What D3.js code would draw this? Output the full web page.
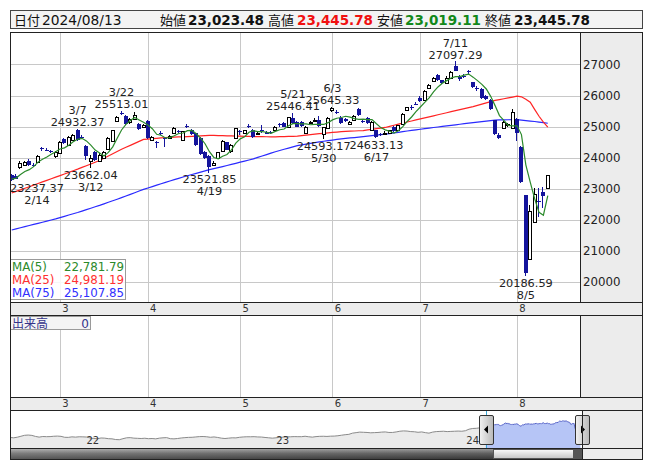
<!DOCTYPE html>
<html><head><meta charset="utf-8">
<script src="https://cdn.jsdelivr.net/npm/d3@7"></script>
<style>body{margin:0;background:#fff}svg{display:block}</style>
</head><body>
<svg id="c" width="653" height="470"></svg>
<script>
// ---------------- DATA ----------------
const dates = ["2/14","2/15","2/16","2/19","2/20","2/21","2/22","2/26","2/27","2/28","2/29",
"3/1","3/4","3/5","3/6","3/7","3/8","3/11","3/12","3/13","3/14","3/15","3/18","3/19","3/21","3/22","3/25","3/26","3/27","3/28","3/29",
"4/1","4/2","4/3","4/4","4/5","4/8","4/9","4/10","4/11","4/12","4/15","4/16","4/17","4/18","4/19","4/22","4/23","4/24","4/25","4/26","4/30",
"5/1","5/2","5/7","5/8","5/9","5/10","5/13","5/14","5/15","5/16","5/17","5/20","5/21","5/22","5/23","5/24","5/27","5/28","5/29","5/30","5/31",
"6/3","6/4","6/5","6/6","6/7","6/10","6/11","6/12","6/13","6/14","6/17","6/18","6/19","6/20","6/21","6/24","6/25","6/26","6/27","6/28",
"7/1","7/2","7/3","7/4","7/5","7/8","7/9","7/10","7/11","7/12","7/16","7/17","7/18","7/19","7/22","7/23","7/24","7/25","7/26","7/29","7/30","7/31",
"8/1","8/2","8/5","8/6","8/7","8/8","8/9","8/13"];

const opens = [23440,23420,23700,23760,23890,23780,23850,24300,24260,24220,24040,
24150,24600,24410,24570,24890,24680,24380,23880,24180,23900,23990,24280,24540,25180,25440,25340,25150,25250,25090,24990,
25180,24570,24490,24800,24630,24630,24800,24860,24570,25010,24900,24780,24650,24170,24060,23750,24000,24220,24500,24200,24640,
24870,24800,25010,24900,24800,24900,24840,24820,24900,25070,25130,25000,25280,25140,25160,24800,25120,25200,25220,24750,24960,
25530,25480,25290,25240,25090,25200,25570,25180,25270,24900,24880,24760,24800,24780,24990,24880,25100,25530,25620,25720,
25930,25860,26240,26460,26650,26490,26400,26580,26950,26610,26630,26780,26420,26250,26210,26000,25850,25200,24720,24940,25060,24950,
25250,24340,22800,20740,21940,22600,22907,23023.48];

const highs = [23480,23460,23880,23900,23960,23840,24090,24340,24300,24260,24200,
24530,24650,24690,24770,24932.37,24730,24410,24100,24220,24150,24220,24660,24900,25330,25513.01,25380,25280,25470,25130,25080,
25200,24700,24540,24850,24650,24720,24980,24900,24870,25080,24930,24800,24670,24200,24080,23880,24190,24560,24520,24450,24960,
24900,24900,25080,24930,24840,25060,24870,24870,25010,25130,25160,25320,25446.41,25180,25190,25020,25180,25280,25350,24990,25300,
25645.33,25530,25330,25270,25180,25370,25610,25230,25300,25170,24900,24800,24860,24900,25020,25060,25440,25640,25680,25780,
25980,26170,26370,26600,26690,26510,26620,26780,27097.29,26650,26700,26820,26440,26300,26240,26030,25880,25220,24800,25180,25130,25580,
25290,24380,22810,22480,23016,23026,23067,23445.78];

const lows = [23237.37,23300,23650,23720,23730,23700,23830,24230,24200,24160,23990,
24130,24450,24390,24540,24540,24600,23940,23662.04,23880,23850,23960,24270,24500,25150,25380,25050,25100,25220,24900,24960,
24600,24530,24320,24730,24350,24600,24780,24800,24550,24960,24740,24380,24090,23960,23521.85,23720,23980,24200,24240,24160,24620,
24720,24760,24960,24640,24760,24800,24750,24760,24880,25000,24980,24980,25100,24980,24990,24760,25090,25140,24990,24593.17,24940,
25480,25410,25100,25160,25060,25170,25340,25130,25090,24870,24633.13,24700,24760,24760,24840,24860,25080,25510,25530,25680,
25790,25840,26220,26440,26480,26380,26380,26560,26780,26480,26560,26700,26230,26150,25900,25850,25540,24730,24600,24920,24980,24930,
24550,23200,20186.59,20700,21900,22100,22380,23019.11];

const closes = [23290,23330,23830,23870,23760,23770,24060,24280,24240,24200,24170,
24510,24470,24670,24740,24570,24670,24050,24000,23930,24090,24190,24640,24890,25310,25430,25090,25250,25380,24930,25050,
24640,24670,24480,24780,24610,24700,24960,24840,24860,24990,24760,24400,24120,23980,23700,23840,24180,24540,24260,24420,24950,
24860,24880,24990,24660,24800,24880,24770,24800,24990,25060,25000,25300,25130,25000,25010,25000,25160,25200,25010,24980,25290,
25600,25470,25130,25180,25150,25350,25360,25160,25110,25150,24680,24740,24800,24880,24860,25050,25420,25620,25600,25710,
25810,26150,26340,26580,26500,26400,26580,26760,26800,26520,26620,26760,26260,26240,25920,25880,25570,24770,24640,25150,25070,25480,
24800,23220,20290,22283,22843,22570,22767.17,23445.78];

// closes of the four sessions before the first visible one (for MA5)
const priorCloses = [23150,23250,23400,23450];

const ma25 = [22865,22916,22966,23017,23067,23118,23169,23220,23271,23322,23373,
23425,23476,23528,23579,23631,23687,23743,23798,23854,23910,23983,24056,24128,24201,24273,24336,24398,24461,24524,24588,
24600,24613,24625,24638,24650,24654,24660,24667,24673,24680,24688,24696,24704,24712,24720,24716,24712,24708,24704,24700,24696,
24692,24688,24684,24680,24678,24676,24674,24672,24670,24675,24680,24684,24689,24693,24709,24725,24740,24756,24772,24785,24798,
24812,24825,24838,24845,24852,24860,24867,24874,24894,24914,24933,24953,24973,25008,25043,25078,25113,25148,25181,25215,
25248,25282,25315,25348,25381,25414,25447,25480,25513,25546,25579,25612,25645,25685,25724,25764,25803,25843,25870,25897,25925,
25952,25980,25960,25879,25784,25555,25333,25144,24981.19];

const ma75 = [21674,21710,21746,21781,21817,21852,21888,21924,21960,21996,22032,
22073,22114,22155,22196,22236,22282,22328,22374,22420,22466,22516,22565,22615,22664,22714,22767,22820,22874,22927,22980,
23026,23071,23117,23162,23208,23250,23293,23335,23378,23420,23459,23498,23536,23575,23614,23648,23682,23715,23749,23783,23819,
23855,23891,23927,23963,24009,24055,24101,24147,24193,24232,24271,24309,24348,24387,24412,24436,24461,24485,24510,24529,24549,
24568,24588,24607,24621,24635,24649,24663,24677,24693,24709,24725,24741,24757,24777,24798,24818,24839,24859,24878,24897,
24915,24934,24953,24971,24988,25006,25023,25041,25059,25077,25094,25112,25130,25146,25163,25179,25196,25212,25216,25219,25222,
25224,25225,25210,25195,25180,25165,25147,25128,25107.85];

const yTicks = [20000,21000,22000,23000,24000,25000,26000,27000];
const monthStarts = ["3/1","4/1","5/1","6/3","7/1","8/1"];
const monthLabels = ["3","4","5","6","7","8"];

const markDates = ["2/14","3/7","3/12","3/22","4/19","5/21","5/30","6/3","6/17","7/11","8/5"];
const markKinds = ["low","high","low","high","low","high","low","high","low","high","low"];

// navigator: weekly values from 2021-08-13 to 2024-02-09
const navHistStart = "2021-08-13";
const navHist = [17100,16900,17250,17800,18350,18500,18300,17700,17300,17650,17550,17600,17800,17900,17750,17200,17150,17450,17300,17500,17450,
17350,16800,16500,16400,16800,16700,16400,16300,15900,15800,16400,16900,17000,16700,16600,16500,16650,16400,16500,16300,16700,
16900,17000,16400,16300,16500,16800,17000,17150,17200,17400,17600,17650,17500,17200,17400,17100,16700,16500,16700,16900,16850,17200,
17400,17500,17500,17550,17400,17350,17100,16900,16700,
16900,17150,17300,17450,17500,17600,17550,17550,17800,17500,17300,17600,17750,17800,17700,17850,17900,18100,18400,18700,18900,
19600,19900,20200,20100,20000,19800,19900,20000,20200,20300,20000,20000,20300,20700,20900,20800,20500,20400,20100,20300,19900,19600,
20200,20500,20600,20700,20500,20600,20700,20800,20700,
21000,21900,22300,22400,22700,23100];
const yearLabels = ["22","23","24"];
const yearStarts = ["2022-01-01","2023-01-01","2024-01-01"];

const headerDate = "2024/08/13";

// ---------------- DRAW ----------------
const FONT = "'DejaVu Sans','Noto Sans CJK JP',sans-serif";
const JP = "'Noto Sans CJK JP','DejaVu Sans',sans-serif";
const svg = d3.select("#c").attr("font-family", FONT);
const L = 10, R = 580, RR = 643, TOP = 33, MB = 302, VT = 315, VB = 397, NT = 410, NB = 448, SB = 459;
const UP = "#000", DOWN = "#14149c";

const x = d3.scaleLinear().domain([0, dates.length - 1]).range([11.7, 547.8]);
const y = d3.scaleLinear().domain([20000, 28000]).range([282, 33.4]);
const idx = d => dates.indexOf(d);
const fmt2 = d3.format(",.2f"), fmtp = d3.format(".2f");

// header
const hdr = svg.append("g");
hdr.append("rect").attr("x", 10.5).attr("y", 10.5).attr("width", 632).attr("height", 18)
  .attr("fill", "#f3f3f3").attr("stroke", "#444");
const last = dates.length - 1;
const hItems = [
  {t:"日付", x:14, f:JP, w:"normal", c:"#111"},
  {t:headerDate, x:42, f:FONT, w:"normal", c:"#111"},
  {t:"始値", x:160, f:JP, w:"normal", c:"#111"},
  {t:fmt2(opens[last]), x:188, f:FONT, w:"bold", c:"#111"},
  {t:"高値", x:268, f:JP, w:"normal", c:"#111"},
  {t:fmt2(highs[last]), x:297, f:FONT, w:"bold", c:"#f01010"},
  {t:"安値", x:377, f:JP, w:"normal", c:"#111"},
  {t:fmt2(lows[last]), x:405, f:FONT, w:"bold", c:"#12881a"},
  {t:"終値", x:485, f:JP, w:"normal", c:"#111"},
  {t:fmt2(closes[last]), x:514, f:FONT, w:"bold", c:"#111"}
];
hdr.selectAll("text").data(hItems).join("text")
  .attr("x", d => d.x).attr("y", 24.5).attr("font-family", d => d.f)
  .attr("font-weight", d => d.w).attr("fill", d => d.c)
  .attr("font-size", d => d.f === JP ? 13 : (d.w === "bold" ? 13.5 : 13.8)).text(d => d.t);

// panels backgrounds
svg.append("rect").attr("x", L).attr("y", TOP).attr("width", R - L).attr("height", MB - TOP).attr("fill", "#fff");
svg.append("rect").attr("x", R).attr("y", TOP).attr("width", RR - R).attr("height", NT - TOP).attr("fill", "#ececec");
svg.append("rect").attr("x", L).attr("y", MB).attr("width", RR - L).attr("height", VT - MB).attr("fill", "#ececec");
svg.append("rect").attr("x", L).attr("y", VT).attr("width", R - L).attr("height", VB - VT).attr("fill", "#fff");
svg.append("rect").attr("x", L).attr("y", VB).attr("width", RR - L).attr("height", NT - VB).attr("fill", "#ececec");

// grid
const grid = svg.append("g").attr("stroke", "#c8c8c8").attr("stroke-width", 1).attr("shape-rendering", "crispEdges");
grid.selectAll("line.h").data(yTicks).join("line").attr("class", "h")
  .attr("x1", L).attr("x2", R).attr("y1", d => Math.round(y(d)) + 0.5).attr("y2", d => Math.round(y(d)) + 0.5);
const mx = d => Math.round(x(idx(d))) + 0.5;
grid.selectAll("line.v").data(monthStarts).join("line").attr("class", "v")
  .attr("x1", mx).attr("x2", mx).attr("y1", TOP).attr("y2", MB);
grid.selectAll("line.vv").data(monthStarts).join("line").attr("class", "vv")
  .attr("x1", mx).attr("x2", mx).attr("y1", VT).attr("y2", VB);

// y axis labels
svg.append("g").selectAll("text").data(yTicks).join("text")
  .attr("x", 583).attr("y", d => y(d)).attr("dy", "0.36em").attr("font-size", 11.8).attr("fill", "#222")
  .text(d => d);

const plot = svg.append("g");
plot.append("clipPath").attr("id", "clipMain").append("rect")
  .attr("x", L).attr("y", TOP).attr("width", R - L).attr("height", MB - TOP);
const pg = plot.append("g").attr("clip-path", "url(#clipMain)");

// MA lines
const allC = priorCloses.concat(closes);
const ma5 = closes.map((c, i) => d3.mean(allC.slice(i, i + 5)));
const line = d3.line().x((d, i) => x(i)).y(d => y(d));
pg.append("path").attr("d", line(ma75)).attr("fill", "none").attr("stroke", "#2a2aff").attr("stroke-width", 1.2);
pg.append("path").attr("d", line(ma25)).attr("fill", "none").attr("stroke", "#ff2424").attr("stroke-width", 1.2);

// candles
const candles = pg.append("g").attr("shape-rendering", "crispEdges");
dates.forEach((d, i) => {
  const xr = Math.round(x(i));
  const up = closes[i] >= opens[i];
  const col = up ? UP : DOWN;
  candles.append("line").attr("x1", xr - 0.5).attr("x2", xr - 0.5)
    .attr("y1", y(highs[i])).attr("y2", y(lows[i])).attr("stroke", col);
  const yt = Math.round(y(Math.max(opens[i], closes[i])));
  const yb = Math.round(y(Math.min(opens[i], closes[i])));
  if (up) {
    candles.append("rect").attr("x", xr - 1.5).attr("y", yt + 0.5).attr("width", 3)
      .attr("height", Math.max(1, yb - yt)).attr("fill", "#fff").attr("stroke", "#000");
  } else {
    candles.append("rect").attr("x", xr - 2).attr("y", yt).attr("width", 4)
      .attr("height", Math.max(1, yb - yt)).attr("fill", DOWN);
  }
});
pg.append("path").attr("d", line(ma5)).attr("fill", "none").attr("stroke", "#2b8a2b").attr("stroke-width", 1.2);

// high / low annotations
const ann = svg.append("g").attr("font-size", 11.3).attr("fill", "#222");
markDates.forEach((d, k) => {
  const i = idx(d);
  const hi = markKinds[k] === "high";
  const v = hi ? highs[i] : lows[i];
  const yy = y(v);
  const g = ann.append("g");
  const tv = g.append("text").attr("text-anchor", "middle").attr("y", hi ? yy - 2.5 : yy + 10.5).text(fmtp(v));
  const td = g.append("text").attr("text-anchor", "middle").attr("y", hi ? yy - 14.5 : yy + 22.5).text(d);
  const w = tv.node().getComputedTextLength();
  const cx = Math.max(x(i), L + w / 2);
  tv.attr("x", cx); td.attr("x", cx);
});

// MA legend
const lg = svg.append("g").attr("font-size", 11.8);
lg.append("rect").attr("x", 10.5).attr("y", 259.5).attr("width", 115).attr("height", 40)
  .attr("fill", "#fff").attr("fill-opacity", 0.85).attr("stroke", "#9a9a9a");
const legRows = [
  {n:"MA(5)", v:ma5[last], c:"#2b8a2b"},
  {n:"MA(25)", v:ma25[last], c:"#ff3030"},
  {n:"MA(75)", v:ma75[last], c:"#3030ff"}
];
legRows.forEach((r, k) => {
  lg.append("text").attr("x", 12).attr("y", 270.5 + k * 13.3).attr("fill", r.c).text(r.n);
  lg.append("text").attr("x", 124).attr("y", 270.5 + k * 13.3).attr("fill", r.c)
    .attr("text-anchor", "end").text(fmt2(r.v));
});

// month labels in both bands
[311.5, 406.5].forEach(by => {
  svg.append("g").selectAll("text").data(monthStarts).join("text")
    .attr("x", (d) => x(idx(d)) + 2.2).attr("y", by).attr("font-size", 10).attr("fill", "#333")
    .text((d, k) => monthLabels[k]);
});

// volume label box
const vb = svg.append("g");
vb.append("rect").attr("x", 10.5).attr("y", 316.5).attr("width", 80).attr("height", 13)
  .attr("fill", "#f4f4f4").attr("stroke", "#9a9a9a");
vb.append("text").attr("x", 12).attr("y", 327.5).attr("font-family", JP).attr("font-size", 12)
  .attr("fill", "#33338a").text("出来高");
vb.append("text").attr("x", 89).attr("y", 327.5).attr("font-size", 12).attr("text-anchor", "end")
  .attr("fill", "#33338a").text("0");

// ---------------- NAVIGATOR ----------------
const parse = d3.timeParse("%Y-%m-%d");
const h0 = parse(navHistStart);
const navPts = navHist.map((v, k) => ({t: d3.timeDay.offset(h0, k * 7), v}));
dates.forEach((d, i) => {
  const [m, dd] = d.split("/").map(Number);
  navPts.push({t: new Date(2024, m - 1, dd), v: closes[i]});
});
const nx = d3.scaleTime().domain([new Date(2021, 7, 13), new Date(2024, 7, 16)]).range([L, 582]);
const ny = d3.scaleLinear().domain([11000, 33000]).range([NB, NT]);
svg.append("rect").attr("x", L).attr("y", NT).attr("width", 572).attr("height", NB - NT).attr("fill", "#fff");
svg.append("rect").attr("x", 582).attr("y", NT).attr("width", RR - 582).attr("height", SB - NT).attr("fill", "#ececec");
const area = d3.area().x(d => nx(d.t)).y0(NB).y1(d => ny(d.v));
const nline = d3.line().x(d => nx(d.t)).y(d => ny(d.v));
svg.append("path").attr("d", area(navPts)).attr("fill", "#ebebeb");
svg.append("path").attr("d", nline(navPts)).attr("fill", "none").attr("stroke", "#8a8a8a").attr("stroke-width", 1);
const selX0 = nx(new Date(2024, 1, 14)) - 0.5, selX1 = 582;
svg.append("clipPath").attr("id", "clipSel").append("rect")
  .attr("x", selX0).attr("y", NT).attr("width", selX1 - selX0).attr("height", NB - NT);
const sel = svg.append("g").attr("clip-path", "url(#clipSel)");
sel.append("rect").attr("x", selX0).attr("y", NT).attr("width", selX1 - selX0).attr("height", NB - NT).attr("fill", "#fff");
sel.append("path").attr("d", area(navPts)).attr("fill", "#b6c5f6");
sel.append("path").attr("d", nline(navPts)).attr("fill", "none").attr("stroke", "#5865c8").attr("stroke-width", 1);
svg.append("g").attr("stroke", "#3aa8d8").attr("shape-rendering", "crispEdges").selectAll("line")
  .data([selX0, selX1]).join("line").attr("x1", d => Math.round(d) + 0.5).attr("x2", d => Math.round(d) + 0.5)
  .attr("y1", NT).attr("y2", NB);
svg.append("g").selectAll("text").data(yearStarts).join("text")
  .attr("x", d => nx(parse(d)) + 3).attr("y", 443.5).attr("font-size", 10).attr("fill", "#333")
  .text((d, k) => yearLabels[k]);

// scrollbar
const defs = svg.append("defs");
const g1 = defs.append("linearGradient").attr("id", "sbg").attr("x1", 0).attr("x2", 0).attr("y1", 0).attr("y2", 1);
g1.append("stop").attr("offset", "0").attr("stop-color", "#b0b0b0");
g1.append("stop").attr("offset", "0.5").attr("stop-color", "#666");
g1.append("stop").attr("offset", "1").attr("stop-color", "#3a3a3a");
const g2 = defs.append("linearGradient").attr("id", "thg").attr("x1", 0).attr("x2", 0).attr("y1", 0).attr("y2", 1);
g2.append("stop").attr("offset", "0").attr("stop-color", "#fafafa");
g2.append("stop").attr("offset", "1").attr("stop-color", "#c4c4c4");
const g3 = defs.append("linearGradient").attr("id", "hdg").attr("x1", 0).attr("x2", 1).attr("y1", 0).attr("y2", 0);
g3.append("stop").attr("offset", "0").attr("stop-color", "#f2f2f2");
g3.append("stop").attr("offset", "1").attr("stop-color", "#b8b8b8");
const g4 = defs.append("linearGradient").attr("id", "sbh").attr("x1", 0).attr("x2", 1).attr("y1", 0).attr("y2", 0);
g4.append("stop").attr("offset", "0").attr("stop-color", "#fff").attr("stop-opacity", 0.15);
g4.append("stop").attr("offset", "1").attr("stop-color", "#000").attr("stop-opacity", 0.1);
svg.append("rect").attr("x", L).attr("y", NB).attr("width", 572).attr("height", SB - NB).attr("fill", "url(#sbg)");
svg.append("rect").attr("x", L).attr("y", NB).attr("width", 572).attr("height", SB - NB).attr("fill", "url(#sbh)");
svg.append("rect").attr("x", 493.5).attr("y", NB + 1.5).attr("width", 80).attr("height", SB - NB - 2)
  .attr("fill", "url(#thg)").attr("stroke", "#555");
svg.append("rect").attr("x", 574).attr("y", NB).attr("width", 8).attr("height", SB - NB).attr("fill", "#555");

// handles
[{cx: Math.round(selX0), dir: -1}, {cx: 582, dir: 1}].forEach(h => {
  svg.append("rect").attr("x", h.cx - 6.5).attr("y", 415.5).attr("width", 14).attr("height", 29).attr("rx", 1.5)
    .attr("fill", "url(#hdg)").attr("stroke", "#333");
  const c = h.cx + 0.5, cy = 429.5;
  const pts = h.dir < 0 ? [[c - 2.5, cy], [c + 1.5, cy - 4], [c + 1.5, cy + 4]] : [[c + 2.5, cy], [c - 1.5, cy - 4], [c - 1.5, cy + 4]];
  svg.append("polygon").attr("points", pts.map(p => p.join(",")).join(" ")).attr("fill", "#000");
});

// frame lines
const fr = svg.append("g").attr("stroke", "#222").attr("shape-rendering", "crispEdges").attr("fill", "none");
fr.append("rect").attr("x", 10.5).attr("y", 32.5).attr("width", 632).attr("height", SB - 32);
[MB, VT, VB, NT, NB].forEach(yy => fr.append("line").attr("x1", L).attr("x2", RR).attr("y1", yy + 0.5).attr("y2", yy + 0.5));
fr.append("line").attr("x1", R + 0.5).attr("x2", R + 0.5).attr("y1", TOP).attr("y2", MB);
fr.append("line").attr("x1", R + 0.5).attr("x2", R + 0.5).attr("y1", VT).attr("y2", VB);
fr.append("line").attr("x1", 582.5).attr("x2", 582.5).attr("y1", NT).attr("y2", SB);
</script>
</body></html>
